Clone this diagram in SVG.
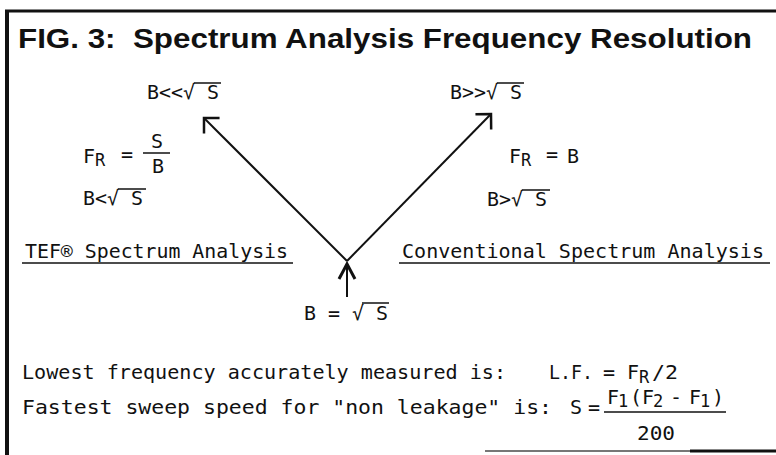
<svg xmlns="http://www.w3.org/2000/svg" width="776" height="455" viewBox="0 0 776 455">
<style>
.t{font-family:"Liberation Sans",Arial,sans-serif;font-weight:bold;font-size:27px;fill:#111}
.m{font-family:"DejaVu Sans Mono","Liberation Mono",monospace;font-size:20px;fill:#111}
.s{font-family:"DejaVu Sans Mono","Liberation Mono",monospace;font-size:17px;fill:#111}
.ln{stroke:#111;stroke-width:1.5;fill:none}
.ar{stroke:#111;stroke-width:2;fill:none}
</style>
<defs>
<marker id="ah" markerUnits="userSpaceOnUse" viewBox="-18 -14 22 28" markerWidth="22" markerHeight="28" refX="0" refY="0" orient="auto">
<path d="M-11,-11 L0,0 L-11,11" stroke="#111" stroke-width="2.5" fill="none"/>
</marker>
<marker id="ahu" markerUnits="userSpaceOnUse" viewBox="-18 -10 22 20" markerWidth="22" markerHeight="20" refX="0" refY="0" orient="auto">
<path d="M-15,-8 L0,0 L-15,8" stroke="#111" stroke-width="3" fill="none"/>
</marker>
</defs>
<rect width="776" height="455" fill="#fff"/>
<g id="frame">
<line x1="5" y1="11" x2="776" y2="11" stroke="#111" stroke-width="3"/>
<line x1="7" y1="10" x2="7" y2="455" stroke="#111" stroke-width="4"/>
<line x1="485" y1="451" x2="700" y2="451" stroke="#777" stroke-width="2"/>
<line x1="690" y1="451" x2="776" y2="451" stroke="#111" stroke-width="3"/>
</g>
<g id="title"><text class="t" x="18" y="48" textLength="734" lengthAdjust="spacingAndGlyphs" xml:space="preserve">FIG. 3:  Spectrum Analysis Frequency Resolution</text></g>
<g id="connectors">
<line class="ar" x1="347" y1="261" x2="204" y2="118" marker-end="url(#ah)"/>
<line class="ar" x1="347" y1="261" x2="491" y2="114" marker-end="url(#ah)"/>
<line class="ar" x1="347" y1="297" x2="347" y2="264" stroke-width="3" marker-end="url(#ahu)"/>
</g>
<g id="n-bllsqrt">
<text class="m" x="147" y="99" textLength="72" lengthAdjust="spacingAndGlyphs">B&lt;&lt;√ S</text>
<line class="ln" x1="194" y1="83" x2="221" y2="83"/>
</g>
<g id="n-bggsqrt">
<text class="m" x="450" y="99" textLength="72" lengthAdjust="spacingAndGlyphs">B&gt;&gt;√ S</text>
<line class="ln" x1="497" y1="83" x2="524" y2="83"/>
</g>
<g id="n-fr-left">
<text class="m" x="83" y="163">F</text><text class="s" x="95" y="166">R</text>
<text class="m" x="121" y="161">=</text>
<text class="m" x="151" y="148">S</text>
<line class="ln" x1="143" y1="153" x2="170" y2="153"/>
<text class="m" x="152" y="173">B</text>
</g>
<g id="n-blsqrt">
<text class="m" x="83" y="205" textLength="60" lengthAdjust="spacingAndGlyphs">B&lt;√ S</text>
<line class="ln" x1="118" y1="189" x2="146" y2="189"/>
</g>
<g id="n-fr-right">
<text class="m" x="509" y="163">F</text><text class="s" x="521" y="166">R</text>
<text class="m" x="546" y="161">=</text>
<text class="m" x="567" y="163">B</text>
</g>
<g id="n-bgsqrt">
<text class="m" x="487" y="206" textLength="60" lengthAdjust="spacingAndGlyphs">B&gt;√ S</text>
<line class="ln" x1="522" y1="190" x2="550" y2="190"/>
</g>
<g id="n-tef">
<text class="m" x="25" y="258" textLength="263" lengthAdjust="spacingAndGlyphs">TEF® Spectrum Analysis</text>
<line class="ln" x1="22" y1="263" x2="293" y2="263"/>
</g>
<g id="n-conv">
<text class="m" x="402" y="258" textLength="362" lengthAdjust="spacingAndGlyphs">Conventional Spectrum Analysis</text>
<line class="ln" x1="399" y1="263" x2="770" y2="263"/>
</g>
<g id="n-beqsqrt">
<text class="m" x="304" y="320" xml:space="preserve" textLength="84" lengthAdjust="spacingAndGlyphs">B = √ S</text>
<line class="ln" x1="362" y1="303" x2="389" y2="303"/>
</g>
<g id="n-lowest">
<text class="m" x="22" y="379" textLength="484" lengthAdjust="spacingAndGlyphs">Lowest frequency accurately measured is:</text>
<text class="m" x="549" y="379" textLength="44" lengthAdjust="spacingAndGlyphs">L.F.</text>
<text class="m" x="603" y="379">=</text>
<text class="m" x="627" y="379">F</text><text class="s" x="639" y="383">R</text>
<text class="m" x="652" y="379" textLength="26" lengthAdjust="spacingAndGlyphs">/2</text>
</g>
<g id="n-fastest">
<text class="m" x="22" y="414" textLength="530" lengthAdjust="spacingAndGlyphs">Fastest sweep speed for "non leakage" is:</text>
<text class="m" x="570" y="414">S</text>
<text class="m" x="588" y="414">=</text>
<text class="m" x="607" y="404">F</text><text class="s" x="618" y="407">1</text>
<text class="m" x="630" y="404">(</text>
<text class="m" x="642" y="404">F</text><text class="s" x="653" y="407">2</text>
<text class="m" x="670" y="404">-</text>
<text class="m" x="689" y="404">F</text><text class="s" x="700" y="407">1</text>
<text class="m" x="712" y="404">)</text>
<line class="ln" x1="604" y1="412" x2="726" y2="412"/>
<text class="m" x="637" y="440" textLength="38" lengthAdjust="spacingAndGlyphs">200</text>
</g>
</svg>
